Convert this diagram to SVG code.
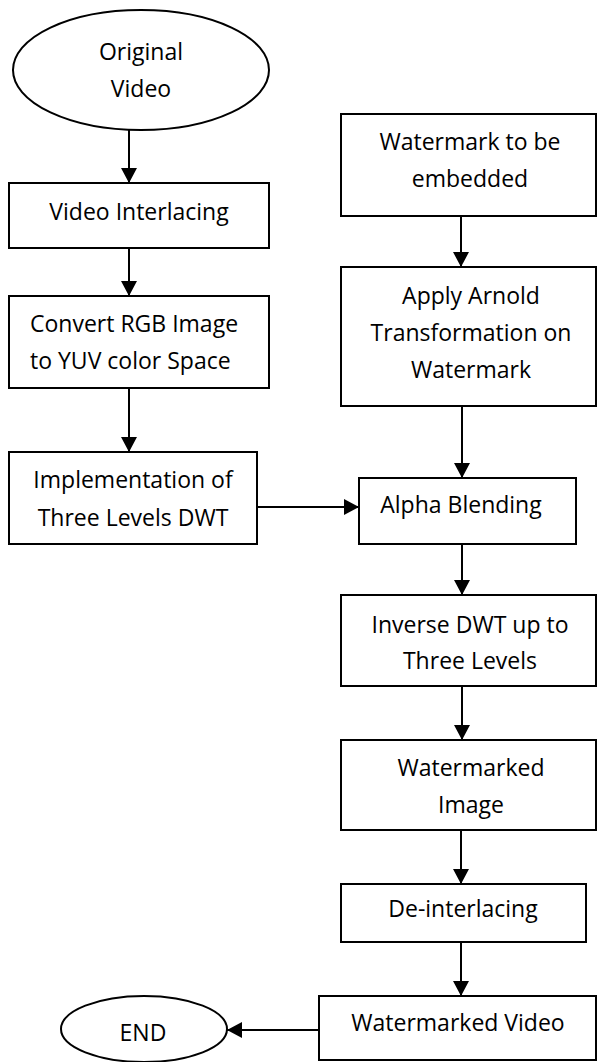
<svg xmlns="http://www.w3.org/2000/svg" width="597" height="1062" viewBox="0 0 597 1062">
<defs>
<style>
.n{fill:#fff;stroke:#000;stroke-width:2}
.t{font-family:"Open Sans","Liberation Sans",sans-serif;font-size:23px;fill:#000;text-anchor:middle}
.c{fill:none;stroke:#000;stroke-width:2;marker-end:url(#ah)}
</style>
<marker id="ah" markerUnits="userSpaceOnUse" markerWidth="15" markerHeight="16" refX="15" refY="8" orient="auto">
<path d="M0,0 L15,8 L0,16 z" fill="#000"/>
</marker>
</defs>
<rect width="597" height="1062" fill="#fff"/>
<g id="connectors">
<line class="c" x1="129" y1="130" x2="129" y2="183"/>
<line class="c" x1="129" y1="248" x2="129" y2="296"/>
<line class="c" x1="129" y1="388" x2="129" y2="452"/>
<line class="c" x1="257" y1="507" x2="359" y2="507"/>
<line class="c" x1="461" y1="216" x2="461" y2="267"/>
<line class="c" x1="462" y1="406" x2="462" y2="478"/>
<line class="c" x1="462" y1="544" x2="462" y2="595"/>
<line class="c" x1="462" y1="686" x2="462" y2="740"/>
<line class="c" x1="461" y1="830" x2="461" y2="884"/>
<line class="c" x1="461" y1="942" x2="461" y2="996"/>
<line class="c" x1="319" y1="1030" x2="227" y2="1030"/>
</g>
<g id="original-video">
<ellipse class="n" cx="141" cy="70" rx="128" ry="60"/>
<text class="t" x="141" y="60">Original</text>
<text class="t" x="141" y="97">Video</text>
</g>
<g id="video-interlacing">
<rect class="n" x="9" y="183" width="260" height="65"/>
<text class="t" x="139" y="220">Video Interlacing</text>
</g>
<g id="convert-rgb">
<rect class="n" x="9" y="296" width="260" height="92"/>
<text class="t" x="30" y="332" style="text-anchor:start">Convert RGB Image</text>
<text class="t" x="30" y="369" style="text-anchor:start">to YUV color Space</text>
</g>
<g id="implementation-dwt">
<rect class="n" x="9" y="452" width="248" height="92"/>
<text class="t" x="133" y="488">Implementation of</text>
<text class="t" x="133" y="526">Three Levels DWT</text>
</g>
<g id="watermark-embedded">
<rect class="n" x="341" y="114" width="255" height="102"/>
<text class="t" x="470" y="150">Watermark to be</text>
<text class="t" x="470" y="187">embedded</text>
</g>
<g id="arnold">
<rect class="n" x="341" y="267" width="255" height="139"/>
<text class="t" x="471" y="304">Apply Arnold</text>
<text class="t" x="471" y="341">Transformation on</text>
<text class="t" x="471" y="378">Watermark</text>
</g>
<g id="alpha-blending">
<rect class="n" x="359" y="478" width="217" height="66"/>
<text class="t" x="461" y="513">Alpha Blending</text>
</g>
<g id="inverse-dwt">
<rect class="n" x="341" y="595" width="255" height="91"/>
<text class="t" x="470" y="633">Inverse DWT up to</text>
<text class="t" x="470" y="669">Three Levels</text>
</g>
<g id="watermarked-image">
<rect class="n" x="341" y="740" width="255" height="90"/>
<text class="t" x="471" y="776">Watermarked</text>
<text class="t" x="471" y="813">Image</text>
</g>
<g id="de-interlacing">
<rect class="n" x="341" y="884" width="245" height="58"/>
<text class="t" x="463" y="917">De-interlacing</text>
</g>
<g id="watermarked-video">
<rect class="n" x="319" y="996" width="277" height="64"/>
<text class="t" x="458" y="1031">Watermarked Video</text>
</g>
<g id="end">
<ellipse class="n" cx="144" cy="1029" rx="83" ry="33"/>
<text class="t" x="143" y="1041">END</text>
</g>
</svg>
